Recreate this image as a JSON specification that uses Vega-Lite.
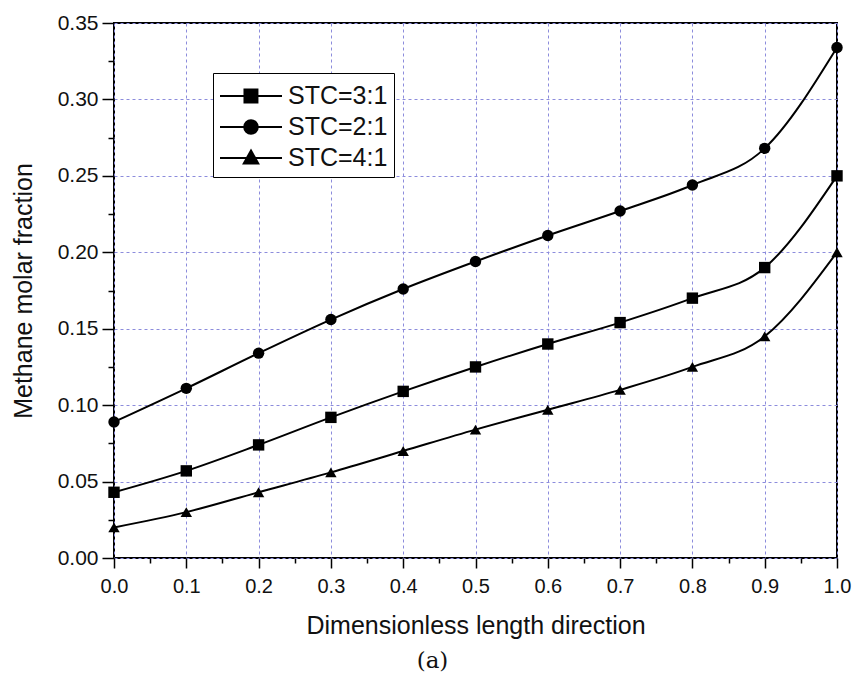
{
  "$schema": "https://vega.github.io/schema/vega-lite/v6.json",
  "width": 723,
  "height": 535,
  "autosize": {"type": "none"},
  "padding": {"left": 114, "top": 23, "right": 20, "bottom": 125},
  "background": "white",
  "config": {
    "view": {"stroke": "black", "strokeWidth": 2},
    "font": "Liberation Sans",
    "axis": {
      "domain": false,
      "labelFont": "Liberation Sans",
      "labelColor": "#111",
      "titleFont": "Liberation Sans",
      "titleFontSize": 25,
      "titleFontWeight": "normal",
      "titleColor": "#111",
      "tickColor": "black",
      "tickWidth": 1.5,
      "gridColor": "#8c8cdc",
      "gridDash": [3, 3],
      "gridWidth": 1
    }
  },
  "title": {"text": "(a)", "orient": "bottom", "font": "DejaVu Serif", "fontSize": 23, "fontWeight": "normal", "color": "#111", "offset": 12, "dx": -43},
  "data": {
    "values": [
      {"x": 0.0, "y": 0.043, "series": "STC=3:1"},
      {"x": 0.1, "y": 0.057, "series": "STC=3:1"},
      {"x": 0.2, "y": 0.074, "series": "STC=3:1"},
      {"x": 0.3, "y": 0.092, "series": "STC=3:1"},
      {"x": 0.4, "y": 0.109, "series": "STC=3:1"},
      {"x": 0.5, "y": 0.125, "series": "STC=3:1"},
      {"x": 0.6, "y": 0.140, "series": "STC=3:1"},
      {"x": 0.7, "y": 0.154, "series": "STC=3:1"},
      {"x": 0.8, "y": 0.170, "series": "STC=3:1"},
      {"x": 0.9, "y": 0.190, "series": "STC=3:1"},
      {"x": 1.0, "y": 0.250, "series": "STC=3:1"},
      {"x": 0.0, "y": 0.089, "series": "STC=2:1"},
      {"x": 0.1, "y": 0.111, "series": "STC=2:1"},
      {"x": 0.2, "y": 0.134, "series": "STC=2:1"},
      {"x": 0.3, "y": 0.156, "series": "STC=2:1"},
      {"x": 0.4, "y": 0.176, "series": "STC=2:1"},
      {"x": 0.5, "y": 0.194, "series": "STC=2:1"},
      {"x": 0.6, "y": 0.211, "series": "STC=2:1"},
      {"x": 0.7, "y": 0.227, "series": "STC=2:1"},
      {"x": 0.8, "y": 0.244, "series": "STC=2:1"},
      {"x": 0.9, "y": 0.268, "series": "STC=2:1"},
      {"x": 1.0, "y": 0.334, "series": "STC=2:1"},
      {"x": 0.0, "y": 0.020, "series": "STC=4:1"},
      {"x": 0.1, "y": 0.030, "series": "STC=4:1"},
      {"x": 0.2, "y": 0.043, "series": "STC=4:1"},
      {"x": 0.3, "y": 0.056, "series": "STC=4:1"},
      {"x": 0.4, "y": 0.070, "series": "STC=4:1"},
      {"x": 0.5, "y": 0.084, "series": "STC=4:1"},
      {"x": 0.6, "y": 0.097, "series": "STC=4:1"},
      {"x": 0.7, "y": 0.110, "series": "STC=4:1"},
      {"x": 0.8, "y": 0.125, "series": "STC=4:1"},
      {"x": 0.9, "y": 0.145, "series": "STC=4:1"},
      {"x": 1.0, "y": 0.200, "series": "STC=4:1"}
    ]
  },
  "encoding": {
    "x": {
      "field": "x", "type": "quantitative",
      "scale": {"domain": [0, 1], "nice": false, "zero": false},
      "axis": {
        "title": "Dimensionless length direction",
        "values": [0, 0.05, 0.1, 0.15, 0.2, 0.25, 0.3, 0.35, 0.4, 0.45, 0.5, 0.55, 0.6, 0.65, 0.7, 0.75, 0.8, 0.85, 0.9, 0.95, 1.0],
        "labelExpr": "round(datum.value*100)%10==0 ? format(datum.value, '.1f') : ''",
        "tickSize": {"condition": {"test": "round(datum.value*100)%10==0", "value": 10}, "value": 5},
        "gridOpacity": {"condition": {"test": "round(datum.value*100)%10==0", "value": 1}, "value": 0},
        "labelFontSize": 20,
        "labelFlush": false,
        "labelPadding": 8,
        "titlePadding": 17
      }
    },
    "y": {
      "field": "y", "type": "quantitative",
      "scale": {"domain": [0, 0.35], "nice": false},
      "axis": {
        "title": "Methane molar fraction",
        "values": [0, 0.025, 0.05, 0.075, 0.1, 0.125, 0.15, 0.175, 0.2, 0.225, 0.25, 0.275, 0.3, 0.325, 0.35],
        "labelExpr": "round(datum.value*1000)%50==0 ? format(datum.value, '.2f') : ''",
        "tickSize": {"condition": {"test": "round(datum.value*1000)%50==0", "value": 12}, "value": 6},
        "gridOpacity": {"condition": {"test": "round(datum.value*1000)%50==0", "value": 1}, "value": 0},
        "labelFontSize": 21,
        "labelFlush": false,
        "labelPadding": 4,
        "titlePadding": 21
      }
    }
  },
  "layer": [
    {
      "mark": {"type": "line", "color": "black", "strokeWidth": 2, "interpolate": "monotone"},
      "encoding": {"detail": {"field": "series"}}
    },
    {
      "transform": [{"filter": "datum.series == 'STC=3:1'"}],
      "mark": {"type": "point", "filled": true, "color": "black", "size": 130, "opacity": 1, "shape": "square"}
    },
    {
      "transform": [{"filter": "datum.series == 'STC=2:1'"}],
      "mark": {"type": "point", "filled": true, "color": "black", "size": 130, "opacity": 1, "shape": "circle"}
    },
    {
      "transform": [{"filter": "datum.series == 'STC=4:1'"}],
      "mark": {"type": "point", "filled": true, "color": "black", "size": 130, "opacity": 1, "shape": "triangle-up"}
    },
    {
      "mark": {"type": "point", "filled": false, "color": "black", "strokeWidth": 2, "size": 1024, "opacity": 0},
      "encoding": {
        "shape": {
          "field": "series", "type": "nominal",
          "scale": {
            "domain": ["STC=3:1", "STC=2:1", "STC=4:1"],
            "range": [
              "M-1,0H2.875M0.53,-0.41H1.34V0.41H0.53ZM0.53,-0.3H1.34M0.53,-0.2H1.34M0.53,-0.1H1.34M0.53,0.1H1.34M0.53,0.2H1.34M0.53,0.3H1.34",
              "M-1,0H2.875M1.3625,0A0.425,0.425,0,1,1,0.5125,0A0.425,0.425,0,1,1,1.3625,0ZM0.5245,-0.1H1.3505M0.5245,0.1H1.3505M0.5625,-0.2H1.3125M0.5625,0.2H1.3125M0.6365,-0.3H1.2385M0.6365,0.3H1.2385M0.7475,-0.38H1.1275M0.7475,0.38H1.1275",
              "M-1,0H2.875M0.9375,-0.47L1.39,0.34H0.485ZM0.8875,-0.38H0.9875M0.8425,-0.3H1.0325M0.7865,-0.2H1.0885M0.7305,-0.1H1.1445M0.6195,0.1H1.2555M0.5635,0.2H1.3115M0.524,0.27H1.351"
            ]
          },
          "legend": {
            "orient": "none",
            "legendX": 99,
            "legendY": 50,
            "title": null,
            "fillColor": "white",
            "strokeColor": "black",
            "padding": 6,
            "labelFont": "Liberation Sans",
            "labelFontSize": 25,
            "labelColor": "#111",
            "labelOffset": 35,
            "symbolSize": 1024,
            "symbolStrokeWidth": 2,
            "symbolStrokeColor": "black",
            "symbolOpacity": 1,
            "rowPadding": 1,
            "encode": {
              "legend": {"update": {"strokeWidth": {"value": 1.5}}},
              "symbols": {"update": {"stroke": {"value": "black"}, "strokeWidth": {"value": 2}, "opacity": {"value": 1}}}
            }
          }
        }
      }
    }
  ]
}
